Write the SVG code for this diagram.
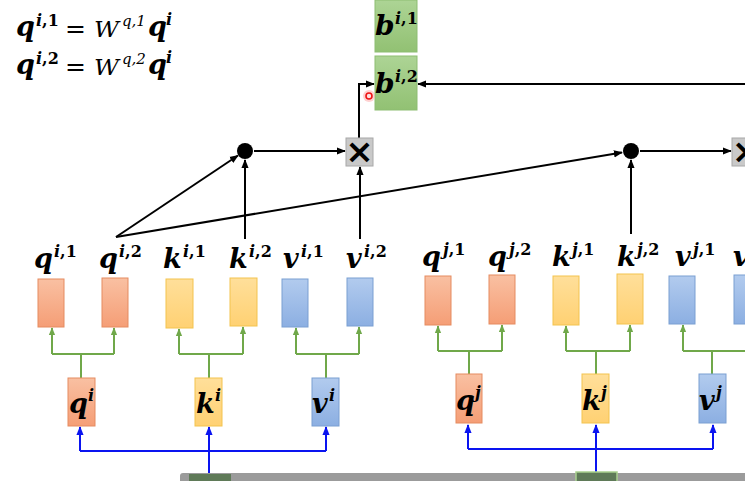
<svg xmlns="http://www.w3.org/2000/svg" width="745" height="481" viewBox="0 0 745 481">
<style>
.m{font-family:"DejaVu Serif","Liberation Serif",serif;font-weight:bold;font-style:italic;font-size:27px;fill:#000}
.s{font-family:"DejaVu Serif","Liberation Serif",serif;font-weight:bold;font-style:italic;font-size:16px;fill:#000}
.u{font-style:normal}
.w{font-family:"DejaVu Serif","Liberation Serif",serif;font-style:italic;font-size:22px;fill:#000}
.ws{font-family:"DejaVu Serif","Liberation Serif",serif;font-style:italic;font-size:15px;fill:#000}
.eq{font-family:"DejaVu Serif","Liberation Serif",serif;font-size:25px;fill:#000}
.bo{fill:url(#gO);stroke:#e58b60;stroke-width:1}
.by{fill:url(#gY);stroke:#f3c34e;stroke-width:1}
.bb{fill:url(#gB);stroke:#7a9fd2;stroke-width:1}
.bg{fill:url(#gG);stroke:#8dbd72;stroke-width:1}
.xb{fill:#c9c9c9;stroke:#a8a8a8;stroke-width:1}
.xt{font-family:"DejaVu Sans",sans-serif;font-weight:bold;font-size:34px;fill:#000}
.k{fill:none;stroke:#000;stroke-width:2}
.g{fill:none;stroke:#70a84a;stroke-width:2}
.bl{fill:none;stroke:#0a14f0;stroke-width:2}
</style>
<defs>
<linearGradient id="gO" x1="0" y1="0" x2="0" y2="1"><stop offset="0" stop-color="#f9c0a2"/><stop offset="1" stop-color="#f59e76"/></linearGradient>
<linearGradient id="gY" x1="0" y1="0" x2="0" y2="1"><stop offset="0" stop-color="#ffdf9a"/><stop offset="1" stop-color="#ffd173"/></linearGradient>
<linearGradient id="gB" x1="0" y1="0" x2="0" y2="1"><stop offset="0" stop-color="#b2cbee"/><stop offset="1" stop-color="#8cafe2"/></linearGradient>
<linearGradient id="gG" x1="0" y1="0" x2="0" y2="1"><stop offset="0" stop-color="#add495"/><stop offset="1" stop-color="#92c173"/></linearGradient>
<marker id="ak" viewBox="0 0 10 10" refX="9" refY="5" markerWidth="9" markerHeight="9" markerUnits="userSpaceOnUse" orient="auto"><path d="M0,1 L10,5 L0,9 z" fill="#000"/></marker>
<marker id="ag" viewBox="0 0 10 10" refX="9" refY="5" markerWidth="8" markerHeight="8" markerUnits="userSpaceOnUse" orient="auto"><path d="M0,1 L10,5 L0,9 z" fill="#70a84a"/></marker>
<marker id="ab" viewBox="0 0 10 10" refX="9" refY="5" markerWidth="9" markerHeight="9" markerUnits="userSpaceOnUse" orient="auto"><path d="M0,1 L10,5 L0,9 z" fill="#0a14f0"/></marker>
</defs>

<g id="formulas">
<text class="m" x="16" y="36">q</text><text class="s" x="36" y="26">i<tspan class="u">,1</tspan></text>
<text class="eq" x="65" y="37">=</text>
<text class="w" x="94" y="37" textLength="25" lengthAdjust="spacingAndGlyphs">W</text><text class="ws" x="122" y="26">q,1</text>
<text class="m" x="148" y="36">q</text><text class="s" x="166" y="25">i</text>
<text class="m" x="16" y="74">q</text><text class="s" x="36" y="64">i<tspan class="u">,2</tspan></text>
<text class="eq" x="65" y="75">=</text>
<text class="w" x="94" y="75" textLength="25" lengthAdjust="spacingAndGlyphs">W</text><text class="ws" x="122" y="64">q,2</text>
<text class="m" x="148" y="74">q</text><text class="s" x="166" y="63">i</text>
</g>

<g id="connectors">
<path class="k" d="M116,237 L238,155.5" marker-end="url(#ak)"/>
<path class="k" d="M116,237 L622,152.5" marker-end="url(#ak)"/>
<path class="k" d="M254,151 H345" marker-end="url(#ak)"/>
<path class="k" d="M245,239 V160" marker-end="url(#ak)"/>
<path class="k" d="M360,239 V167" marker-end="url(#ak)"/>
<path class="k" d="M359,138 V84 H374" marker-end="url(#ak)"/>
<path class="k" d="M745,84 H418" marker-end="url(#ak)"/>
<path class="k" d="M640,151 H731" marker-end="url(#ak)"/>
<path class="k" d="M631,234 V160" marker-end="url(#ak)"/>
<path class="g" d="M81,378 V354 M52,354 H114"/>
<path class="g" d="M52,354 V328" marker-end="url(#ag)"/>
<path class="g" d="M114,354 V328" marker-end="url(#ag)"/>
<path class="g" d="M209,378 V354 M179,354 H243"/>
<path class="g" d="M179,354 V329" marker-end="url(#ag)"/>
<path class="g" d="M243,354 V327" marker-end="url(#ag)"/>
<path class="g" d="M326,378 V354 M296,354 H359"/>
<path class="g" d="M296,354 V328" marker-end="url(#ag)"/>
<path class="g" d="M359,354 V327" marker-end="url(#ag)"/>
<path class="g" d="M469,374 V351 M438,351 H502"/>
<path class="g" d="M438,351 V326" marker-end="url(#ag)"/>
<path class="g" d="M502,351 V325" marker-end="url(#ag)"/>
<path class="g" d="M596,374 V351 M566,351 H630"/>
<path class="g" d="M566,351 V326" marker-end="url(#ag)"/>
<path class="g" d="M630,351 V325" marker-end="url(#ag)"/>
<path class="g" d="M712,374 V351 M683,351 H748"/>
<path class="g" d="M683,351 V325" marker-end="url(#ag)"/>
<path class="bl" d="M80,451 H326"/>
<path class="bl" d="M80,451 V427" marker-end="url(#ab)"/>
<path class="bl" d="M326,451 V427" marker-end="url(#ab)"/>
<path class="bl" d="M209,474 V427" marker-end="url(#ab)"/>
<path class="bl" d="M468,449 H713"/>
<path class="bl" d="M468,449 V425" marker-end="url(#ab)"/>
<path class="bl" d="M713,449 V425" marker-end="url(#ab)"/>
<path class="bl" d="M596,474 V425" marker-end="url(#ab)"/>
</g>

<g id="b_i1"><rect class="bg" x="375" y="0" width="42" height="52"/><text class="m" x="375" y="35" style="font-size:28px">b</text><text class="s" x="395" y="24">i<tspan class="u">,1</tspan></text></g>
<g id="b_i2"><rect class="bg" x="375" y="56" width="42" height="54"/><text class="m" x="375" y="93" style="font-size:28px">b</text><text class="s" x="395" y="82">i<tspan class="u">,2</tspan></text></g>

<g id="cursor"><circle cx="369" cy="96" r="6" fill="#ff9a9a" opacity="0.45"/><circle cx="369" cy="96" r="3" fill="#ffe0e0" stroke="#ee1515" stroke-width="1.6"/></g>

<g id="mul1"><rect class="xb" x="346" y="138" width="27" height="28"/><text class="xt" x="359.5" y="163" text-anchor="middle">×</text></g>
<g id="mul2"><rect class="xb" x="732" y="138" width="28" height="28"/><text class="xt" x="746" y="163" text-anchor="middle">×</text></g>
<g id="dot1"><circle cx="245" cy="151" r="8" fill="#000"/></g>
<g id="dot2"><circle cx="631" cy="151" r="8" fill="#000"/></g>

<g id="qi1"><rect class="bo" x="38" y="279" width="26" height="48"/><text class="m" x="34" y="268">q</text><text class="s" x="54" y="257">i<tspan class="u">,1</tspan></text></g>
<g id="qi2"><rect class="bo" x="102" y="278" width="26" height="49"/><text class="m" x="99" y="268">q</text><text class="s" x="119" y="257">i<tspan class="u">,2</tspan></text></g>
<g id="ki1"><rect class="by" x="166" y="279" width="27" height="49"/><text class="m" x="163" y="268">k</text><text class="s" x="183" y="257">i<tspan class="u">,1</tspan></text></g>
<g id="ki2"><rect class="by" x="230" y="278" width="27" height="48"/><text class="m" x="229" y="268">k</text><text class="s" x="249" y="257">i<tspan class="u">,2</tspan></text></g>
<g id="vi1"><rect class="bb" x="282" y="279" width="26" height="48"/><text class="m" x="283" y="268">v</text><text class="s" x="301" y="257">i<tspan class="u">,1</tspan></text></g>
<g id="vi2"><rect class="bb" x="347" y="278" width="26" height="48"/><text class="m" x="346" y="268">v</text><text class="s" x="364" y="257">i<tspan class="u">,2</tspan></text></g>

<g id="qj1"><rect class="bo" x="425" y="276" width="26" height="49"/><text class="m" x="422" y="266">q</text><text class="s" x="443" y="255">j<tspan class="u">,1</tspan></text></g>
<g id="qj2"><rect class="bo" x="489" y="275" width="26" height="49"/><text class="m" x="488" y="266">q</text><text class="s" x="509" y="255">j<tspan class="u">,2</tspan></text></g>
<g id="kj1"><rect class="by" x="553" y="276" width="26" height="49"/><text class="m" x="552" y="266">k</text><text class="s" x="572" y="255">j<tspan class="u">,1</tspan></text></g>
<g id="kj2"><rect class="by" x="617" y="274" width="26" height="50"/><text class="m" x="617" y="266">k</text><text class="s" x="637" y="255">j<tspan class="u">,2</tspan></text></g>
<g id="vj1"><rect class="bb" x="669" y="276" width="26" height="48"/><text class="m" x="675" y="266">v</text><text class="s" x="693" y="255">j<tspan class="u">,1</tspan></text></g>
<g id="vj2"><rect class="bb" x="734" y="275" width="26" height="49"/><text class="m" x="733" y="266">v</text></g>

<g id="qi"><rect class="bo" x="68" y="378" width="27" height="48"/><text class="m" x="69" y="413">q</text><text class="s" x="88" y="401">i</text></g>
<g id="ki"><rect class="by" x="195" y="378" width="27" height="48"/><text class="m" x="196" y="413">k</text><text class="s" x="215" y="401">i</text></g>
<g id="vi"><rect class="bb" x="312" y="378" width="27" height="48"/><text class="m" x="312" y="413">v</text><text class="s" x="329" y="401">i</text></g>
<g id="qj"><rect class="bo" x="456" y="374" width="26" height="49"/><text class="m" x="456" y="410">q</text><text class="s" x="475" y="398">j</text></g>
<g id="kj"><rect class="by" x="582" y="374" width="27" height="49"/><text class="m" x="582" y="410">k</text><text class="s" x="601" y="398">j</text></g>
<g id="vj"><rect class="bb" x="699" y="374" width="27" height="49"/><text class="m" x="699" y="410">v</text><text class="s" x="716" y="398">j</text></g>

<g id="bar"><rect x="180" y="473" width="600" height="12" rx="3" fill="#9b9b9b"/><rect x="189" y="474" width="42" height="10" fill="#5f7a58"/><rect x="576" y="472" width="41" height="12" fill="#5f7a58" stroke="#a9d18e" stroke-width="1.5"/></g>
</svg>
